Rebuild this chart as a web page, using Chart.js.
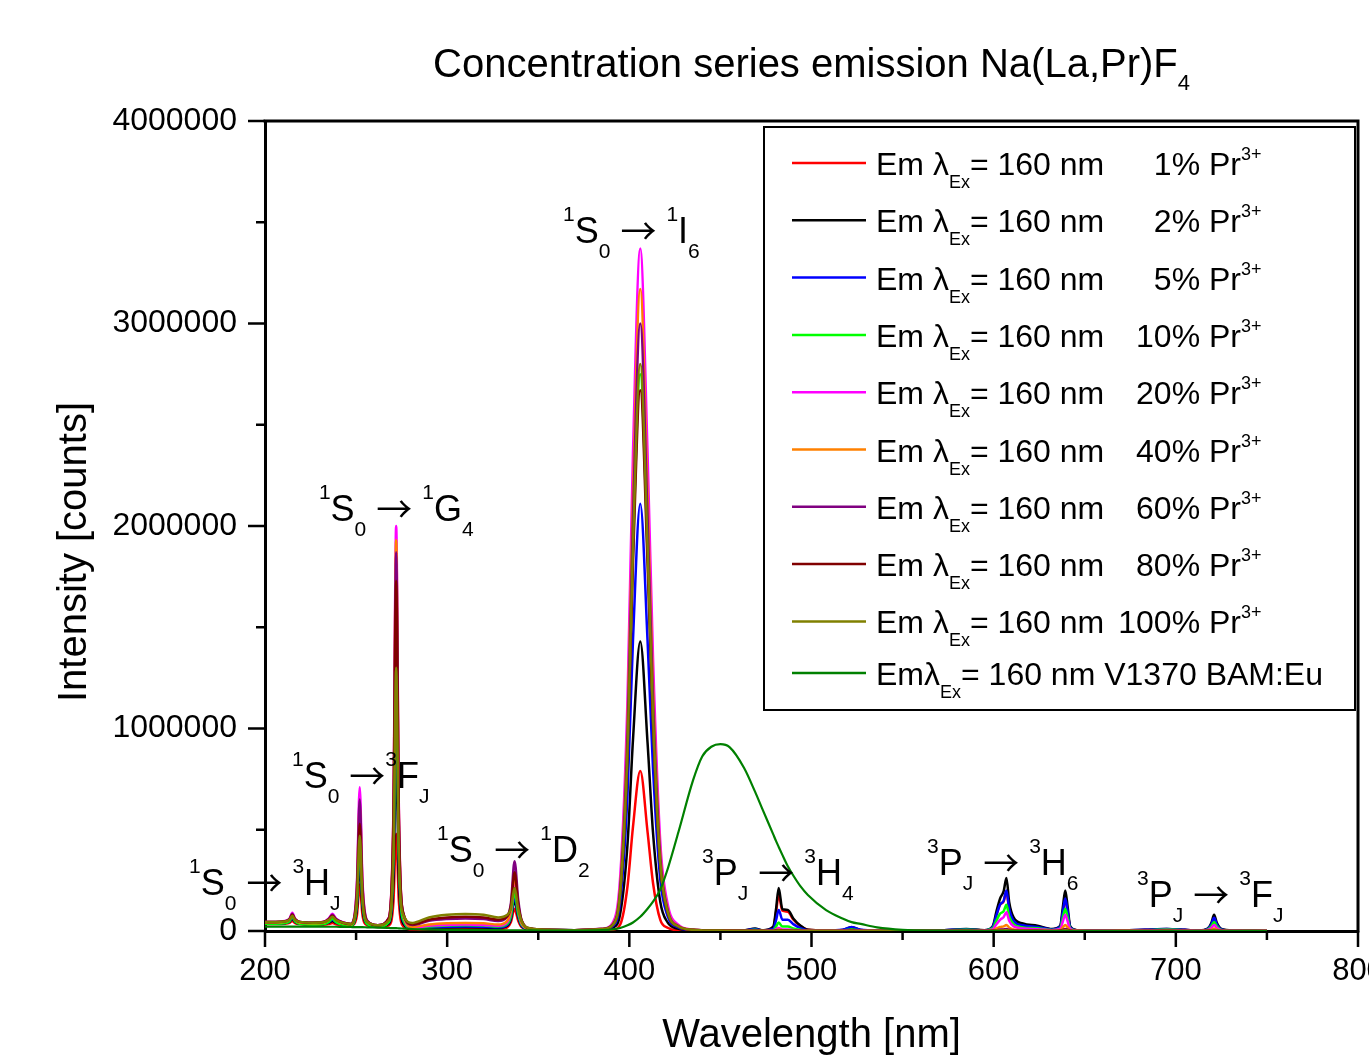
<!DOCTYPE html>
<html><head><meta charset="utf-8">
<script src="https://cdn.jsdelivr.net/npm/chart.js@4/dist/chart.umd.min.js"></script>
<style>html,body{margin:0;padding:0;overflow:hidden;background:#fff;width:1369px;height:1055px}canvas{display:block}</style>
</head><body><canvas id="c" width="1410" height="1055"></canvas>
<script>
// ---------- DATA (intensity in thousands of counts) ----------
const wavelength = [200, 206, 211, 213.5, 215, 216.5, 219, 226, 232, 235,
  237, 239, 243, 247, 249, 250.5, 252, 253.5, 256, 262,
  268, 270.5, 272, 273.5, 276, 281, 290, 300, 310, 320,
  328, 333, 335, 337, 339, 341, 346, 355, 370, 385,
  391, 395, 399, 402, 406, 410, 413, 417, 421, 427,
  435, 440, 445, 450, 455, 463, 469, 473, 479, 480.5,
  482, 484, 487, 490, 494, 498, 508, 517, 522, 527,
  536, 550, 570, 585, 595, 599.5, 601.5, 603.5, 605.5, 607,
  608.5, 611, 616, 624, 632, 636.5, 638, 639.3, 640.6, 642,
  646, 655, 670, 683, 695, 705, 713, 717.5, 719.5, 721,
  722.5, 725, 732, 742, 750];

const pr1 = [35, 35, 36, 40, 50, 39, 34, 31, 31, 34,
  40, 33, 28, 25, 35, 80, 230, 80, 29, 20,
  28, 144, 480, 144, 22, 8, 10, 11.5, 12, 11.5,
  10, 18, 44, 110, 50, 18, 6, 4, 3, 5,
  7, 32, 221, 514, 790, 490, 237, 55, 16, 4,
  2, 1, 1, 1, 1, 2, 8, 2, 18, 89,
  178, 100, 95, 57, 24, 6, 2, 4, 14, 4,
  2, 1, 2, 6, 3, 20, 78, 130, 146, 195,
  107, 49, 27, 20, 8, 20, 93, 155, 93, 19,
  3, 1, 2, 5, 8, 5, 2, 9, 31, 62,
  31, 7, 1, 1, 0];
const pr2 = [38, 38, 39, 46, 60, 45, 37, 34, 35, 41,
  50, 40, 32, 28, 43, 116, 330, 116, 35, 22,
  37, 255, 850, 255, 35, 10, 15, 17, 18, 17,
  15, 26, 60, 150, 68, 23, 7, 5, 4, 7,
  17, 86, 429, 944, 1430, 930, 486, 143, 43, 11,
  3, 2, 2, 2, 2, 3, 12, 3, 21, 106,
  212, 108, 104, 62, 26, 6, 3, 5, 18, 5,
  2, 2, 3, 10, 4, 24, 96, 160, 197, 262,
  144, 66, 37, 26, 10, 25, 120, 200, 120, 24,
  4, 2, 3, 6, 10, 6, 2, 12, 40, 80,
  40, 10, 2, 1, 0];
const pr5 = [38, 38, 40, 48, 65, 47, 37, 34, 35, 44,
  55, 43, 32, 28, 47, 140, 400, 140, 37, 22,
  43, 345, 1150, 345, 47, 12, 18, 21, 22, 21,
  18, 30, 68, 170, 77, 25, 7, 5, 4, 8,
  24, 148, 675, 1435, 2110, 1435, 802, 253, 74, 17,
  4, 3, 2, 2, 2, 3, 10, 3, 10, 52,
  104, 56, 56, 34, 14, 4, 3, 6, 20, 6,
  2, 2, 3, 9, 4, 20, 78, 130, 150, 200,
  110, 50, 28, 20, 8, 20, 96, 160, 96, 19,
  3, 2, 3, 6, 10, 6, 2, 10, 33, 65,
  33, 8, 1, 1, 0];
const pr10 = [36, 36, 39, 49, 70, 48, 36, 32, 34, 45,
  60, 44, 31, 26, 47, 150, 430, 150, 36, 21,
  44, 375, 1250, 375, 52, 14, 22, 27, 28, 27,
  22, 35, 76, 190, 86, 29, 8, 5, 4, 10,
  31, 193, 880, 1870, 2750, 1870, 1045, 330, 96, 22,
  6, 3, 2, 2, 2, 2, 6, 2, 4, 21,
  42, 22, 22, 13, 6, 2, 2, 3, 8, 3,
  1, 1, 2, 6, 3, 13, 51, 85, 98, 130,
  72, 33, 18, 13, 5, 14, 66, 110, 66, 13,
  2, 1, 2, 4, 7, 4, 1, 7, 23, 45,
  23, 5, 1, 1, 0];
const pr20 = [45, 45, 49, 62, 90, 61, 45, 41, 45, 62,
  85, 61, 42, 35, 70, 249, 710, 249, 53, 29,
  66, 600, 2000, 600, 76, 16, 26, 30, 32, 30,
  26, 43, 100, 250, 113, 36, 9, 5, 4, 11,
  43, 270, 1146, 2359, 3370, 2359, 1348, 438, 135, 30,
  7, 4, 2, 2, 2, 2, 3, 2, 2, 8,
  15, 8, 8, 5, 2, 1, 1, 2, 4, 2,
  1, 1, 1, 4, 2, 8, 33, 55, 69, 92,
  51, 23, 13, 9, 4, 10, 48, 80, 48, 10,
  2, 1, 1, 3, 5, 3, 1, 5, 15, 30,
  15, 4, 1, 0, 0];
const pr40 = [42, 42, 45, 57, 80, 56, 42, 38, 41, 56,
  75, 55, 38, 32, 62, 217, 620, 217, 48, 27,
  63, 579, 1930, 579, 78, 20, 32, 38, 40, 38,
  32, 51, 108, 270, 122, 38, 9, 5, 4, 10,
  35, 222, 1014, 2156, 3170, 2156, 1205, 380, 111, 25,
  6, 3, 2, 2, 2, 1, 2, 1, 1, 4,
  8, 4, 4, 2, 1, 1, 1, 1, 2, 1,
  1, 1, 1, 2, 1, 3, 12, 20, 23, 30,
  17, 8, 4, 3, 1, 4, 18, 30, 18, 4,
  1, 0, 1, 1, 2, 1, 0, 2, 6, 12,
  6, 1, 0, 0, 0];
const pr60 = [45, 45, 48, 60, 85, 59, 45, 41, 44, 60,
  80, 59, 41, 35, 67, 228, 650, 228, 52, 29,
  64, 561, 1870, 561, 86, 30, 50, 59, 62, 59,
  50, 73, 138, 345, 155, 49, 12, 6, 4, 10,
  33, 210, 960, 2040, 3000, 2040, 1140, 360, 105, 24,
  6, 3, 2, 2, 1, 1, 1, 1, 1, 2,
  4, 2, 2, 1, 1, 0, 0, 1, 1, 1,
  0, 0, 1, 1, 1, 1, 4, 7, 8, 10,
  6, 3, 1, 1, 0, 1, 6, 10, 6, 1,
  0, 0, 0, 1, 1, 1, 0, 1, 3, 5,
  3, 1, 0, 0, 0];
const pr80 = [45, 45, 48, 58, 80, 57, 45, 41, 44, 57,
  75, 56, 41, 35, 61, 186, 530, 186, 48, 29,
  62, 519, 1730, 519, 85, 33, 56, 67, 70, 67,
  56, 73, 125, 290, 131, 50, 12, 6, 4, 9,
  30, 187, 854, 1816, 2670, 1816, 1015, 320, 93, 21,
  5, 3, 2, 2, 1, 1, 1, 1, 0, 2,
  3, 2, 2, 1, 0, 0, 0, 0, 1, 0,
  0, 0, 0, 1, 0, 1, 2, 4, 5, 6,
  3, 2, 1, 1, 0, 1, 4, 6, 4, 1,
  0, 0, 0, 0, 1, 0, 0, 1, 2, 4,
  2, 0, 0, 0, 0];
const pr100 = [45, 45, 47, 56, 75, 55, 45, 41, 43, 55,
  70, 54, 40, 35, 58, 165, 470, 165, 46, 29,
  53, 390, 1300, 390, 77, 40, 67, 80, 84, 80,
  67, 80, 110, 212, 110, 45, 12, 6, 4, 10,
  31, 196, 896, 1904, 2800, 1904, 1064, 336, 98, 22,
  6, 3, 2, 2, 1, 1, 1, 1, 0, 1,
  2, 1, 1, 1, 0, 0, 0, 0, 1, 0,
  0, 0, 0, 1, 0, 0, 2, 3, 3, 4,
  2, 1, 1, 0, 0, 0, 2, 4, 2, 0,
  0, 0, 0, 0, 1, 0, 0, 0, 2, 3,
  2, 0, 0, 0, 0];
const bamEu = [22, 22, 22, 22, 22, 22, 22, 21, 21, 21,
  21, 21, 20, 20, 19, 19, 19, 19, 18, 17,
  15, 14, 14, 13, 12, 10, 8, 6, 5, 4,
  4, 3, 3, 3, 3, 3, 3, 2, 2, 4,
  8, 15, 28, 42, 70, 110, 145, 205, 305, 490,
  745, 862, 910, 923, 908, 805, 688, 603, 477, 445,
  415, 376, 320, 274, 220, 178, 103, 62, 44, 35,
  18, 6, 2, 1, 0, 0, 0, 0, 0, 0,
  0, 0, 0, 0, 0, 0, 0, 0, 0, 0,
  0, 0, 0, 0, 0, 0, 0, 0, 0, 0,
  0, 0, 0, 0, 0];

const concentrations = ['1%', '2%', '5%', '10%', '20%', '40%', '60%', '80%', '100%'];
const prSeries = [pr1, pr2, pr5, pr10, pr20, pr40, pr60, pr80, pr100];
const seriesColors = ['#ff0000', '#000000', '#0000ff', '#00ff00', '#ff00ff', '#ff8000', '#800080', '#800000', '#808000', '#008000'];

const xTickValues = [200, 300, 400, 500, 600, 700, 800];
const xTickLabels = ['200', '300', '400', '500', '600', '700', '800'];
const xMinorTicks = [250, 350, 450, 550, 650, 750];
const yTickValues = [0, 1000, 2000, 3000, 4000];
const yTickLabels = ['0', '1000000', '2000000', '3000000', '4000000'];
const yMinorTicks = [500, 1500, 2500, 3500];

// transition labels, anchored at (wavelength nm, intensity k counts)
const ARROW = [['\u2192', 'a']];
const transitions = [
  {nm: 363.6, k: 3397, segs: [['1','^'],['S',''],['0','_'],[' ',''],...ARROW,[' ',''],['1','^'],['I',''],['6','_']]},
  {nm: 229.6, k: 2025, segs: [['1','^'],['S',''],['0','_'],[' ',''],...ARROW,[' ',''],['1','^'],['G',''],['4','_']]},
  {nm: 214.8, k: 706,  segs: [['1','^'],['S',''],['0','_'],[' ',''],...ARROW,['3','^'],['F',''],['J','_']]},
  {nm: 294.4, k: 341,  segs: [['1','^'],['S',''],['0','_'],[' ',''],...ARROW,[' ',''],['1','^'],['D',''],['2','_']]},
  {nm: 158.3, k: 178,  segs: [['1','^'],['S',''],['0','_'],[' ',''],...ARROW,[' ',''],['3','^'],['H',''],['J','_']]},
  {nm: 439.9, k: 227,  segs: [['3','^'],['P',''],['J','_'],[' ',''],...ARROW,[' ',''],['3','^'],['H',''],['4','_']]},
  {nm: 563.4, k: 277,  segs: [['3','^'],['P',''],['J','_'],[' ',''],...ARROW,[' ',''],['3','^'],['H',''],['6','_']]},
  {nm: 678.7, k: 119,  segs: [['3','^'],['P',''],['J','_'],[' ',''],...ARROW,[' ',''],['3','^'],['F',''],['J','_']]}
];

// ---------- DRAWING ----------
const FONT = '"Liberation Sans", Arial, Helvetica, sans-serif';
const ARROW_FONT = '"Noto Sans CJK SC", "DejaVu Sans", sans-serif';

function segFont(m, size, small) {
  if (m === 'a') return size + 'px ' + ARROW_FONT;
  return (m ? small : size) + 'px ' + FONT;
}
function drawRich(ctx, x, y, segs, size, small, supOff, subOff) {
  for (const [t, m] of segs) {
    ctx.font = segFont(m, size, small);
    const dy = m === '^' ? -supOff : (m === '_' ? subOff : (m === 'a' ? 2 : 0));
    ctx.fillText(t, x, y + dy);
    x += ctx.measureText(t).width;
  }
  return x;
}
function richWidth(ctx, segs, size, small) {
  let w = 0;
  for (const [t, m] of segs) { ctx.font = segFont(m, size, small); w += ctx.measureText(t).width; }
  return w;
}

const datasets = prSeries.map((s, i) => ({
  label: 'Em \u03bbEx= 160 nm ' + concentrations[i] + ' Pr3+',
  data: wavelength.map((w, j) => ({x: w, y: s[j]})),
  borderColor: seriesColors[i], borderWidth: 2.5, order: 20 - i
}));
datasets.push({
  label: 'Em\u03bbEx= 160 nm V1370 BAM:Eu',
  data: wavelength.map((w, j) => ({x: w, y: bamEu[j]})),
  borderColor: seriesColors[9], borderWidth: 2.2, order: 1
});

const decor = {
  id: 'decor',
  afterDraw(chart) {
    const ctx = chart.ctx, xs = chart.scales.x, ys = chart.scales.y, ca = chart.chartArea;
    ctx.save();
    ctx.strokeStyle = '#000'; ctx.fillStyle = '#000';
    // tick marks
    ctx.lineWidth = 2.5;
    ctx.beginPath();
    xTickValues.forEach(v => { const p = xs.getPixelForValue(v); ctx.moveTo(p, ca.bottom); ctx.lineTo(p, ca.bottom + 16); });
    xMinorTicks.forEach(v => { const p = xs.getPixelForValue(v); ctx.moveTo(p, ca.bottom); ctx.lineTo(p, ca.bottom + 9); });
    yTickValues.forEach(v => { const p = ys.getPixelForValue(v); ctx.moveTo(ca.left, p); ctx.lineTo(ca.left - 17, p); });
    yMinorTicks.forEach(v => { const p = ys.getPixelForValue(v); ctx.moveTo(ca.left, p); ctx.lineTo(ca.left - 9, p); });
    ctx.stroke();
    // frame top / right
    ctx.lineWidth = 3;
    ctx.beginPath();
    ctx.moveTo(ca.left - 1.5, ca.top); ctx.lineTo(ca.right, ca.top); ctx.lineTo(ca.right, ca.bottom + 1.5);
    ctx.stroke();

    // transition labels
    ctx.textAlign = 'left'; ctx.textBaseline = 'alphabetic';
    transitions.forEach(a => {
      drawRich(ctx, xs.getPixelForValue(a.nm), ys.getPixelForValue(a.k), a.segs, 36, 21, 22, 15);
    });

    // title
    const tsegs = [['Concentration series emission Na(La,Pr)F',''],['4','_']];
    const tw = richWidth(ctx, tsegs, 40, 22);
    drawRich(ctx, (ca.left + ca.right) / 2 - tw / 2, 77, tsegs, 40, 22, 0, 13);

    // axis titles
    ctx.font = '40px ' + FONT;
    ctx.textAlign = 'center';
    ctx.fillText('Wavelength [nm]', (ca.left + ca.right) / 2, 1047);
    ctx.save();
    ctx.translate(86, 552);
    ctx.rotate(-Math.PI / 2);
    ctx.fillText('Intensity [counts]', 0, 0);
    ctx.restore();

    // legend
    const L = {left: 764, top: 127, right: 1355, bottom: 710};
    ctx.fillStyle = '#fff';
    ctx.fillRect(L.left, L.top, L.right - L.left, L.bottom - L.top);
    ctx.lineWidth = 2; ctx.strokeStyle = '#000';
    ctx.strokeRect(L.left, L.top, L.right - L.left, L.bottom - L.top);
    ctx.textAlign = 'left';
    chart.data.datasets.forEach((ds, i) => {
      const y = L.top + 36 + Math.min(i, 8) * 57.3 + (i === 9 ? 51.6 : 0);
      ctx.strokeStyle = ds.borderColor; ctx.lineWidth = 2.5;
      ctx.beginPath(); ctx.moveTo(792, y); ctx.lineTo(866, y); ctx.stroke();
      ctx.fillStyle = '#000';
      const base = y + 12;
      if (i < 9) {
        drawRich(ctx, 876, base, [['Em \u03bb',''],['Ex','_'],['= 160 nm','']], 32, 18, 15, 13);
        ctx.font = '32px ' + FONT;
        const t = concentrations[i] + ' Pr';
        const w = ctx.measureText(t).width;
        ctx.fillText(t, 1241 - w, base);
        ctx.font = '18px ' + FONT;
        ctx.fillText('3+', 1241, base - 15);
      } else {
        drawRich(ctx, 876, base, [['Em\u03bb',''],['Ex','_'],['= 160 nm V1370 BAM:Eu','']], 32, 18, 15, 13);
      }
    });
    ctx.restore();
  }
};

new Chart(document.getElementById('c'), {
  type: 'line',
  data: {datasets},
  options: {
    responsive: false, animation: false, devicePixelRatio: 1,
    layout: {padding: {left: 0, top: 121, right: 52, bottom: 0}},
    elements: {point: {radius: 0}, line: {cubicInterpolationMode: 'monotone', fill: false}},
    plugins: {legend: {display: false}, title: {display: false}, tooltip: {enabled: false}},
    scales: {
      x: {
        type: 'linear', min: 200, max: 800,
        afterBuildTicks: s => { s.ticks = xTickValues.map(v => ({value: v})); },
        afterFit: s => { s.height = 124; },
        grid: {display: false, drawTicks: false},
        border: {display: true, color: '#000', width: 3},
        ticks: {color: '#000', padding: 22, maxRotation: 0, autoSkip: false,
          font: {family: FONT, size: 31},
          callback: (v) => xTickLabels[xTickValues.indexOf(v)]}
      },
      y: {
        type: 'linear', min: 0, max: 4000,
        afterBuildTicks: s => { s.ticks = yTickValues.map(v => ({value: v})); },
        afterFit: s => { s.width = 265; },
        grid: {display: false, drawTicks: false},
        border: {display: true, color: '#000', width: 3},
        ticks: {color: '#000', padding: 28, autoSkip: false,
          font: {family: FONT, size: 32},
          callback: (v) => yTickLabels[yTickValues.indexOf(v)]}
      }
    }
  },
  plugins: [decor]
});
</script>
</body></html>
